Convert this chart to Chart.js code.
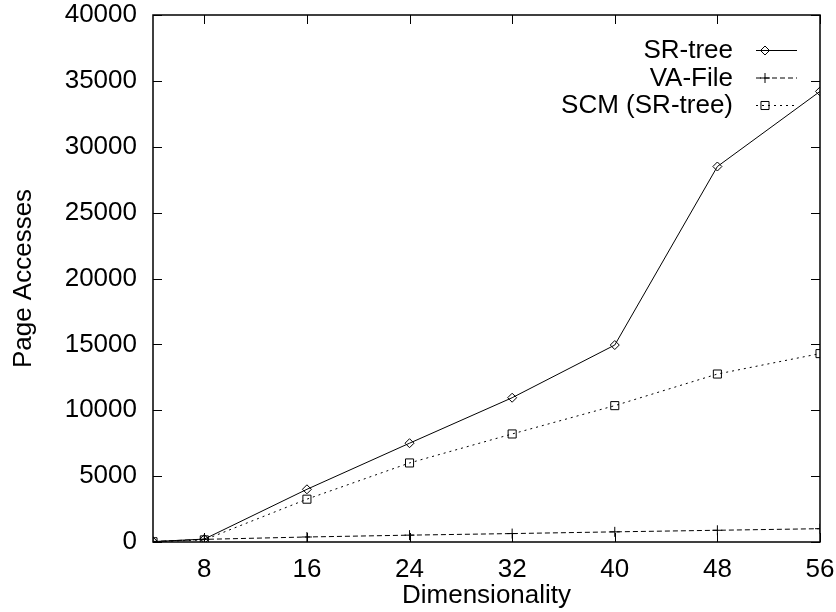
<!DOCTYPE html>
<html>
<head>
<meta charset="utf-8">
<script src="https://cdn.jsdelivr.net/npm/chart.js@4"></script>
<style>
  html, body { margin: 0; padding: 0; background: #fff; }
  #wrap { width: 836px; height: 612px; }
</style>
</head>
<body>
<div id="wrap"><canvas id="chart" width="836" height="612"></canvas></div>
<script>
// data
const dims = [4, 8, 16, 24, 32, 40, 48, 56];
const srTree = [30, 220, 4000, 7500, 10950, 14950, 28500, 34200];
const vaFile = [40, 200, 380, 520, 640, 770, 890, 1010];
const scmSrTree = [20, 160, 3250, 6000, 8200, 10350, 12750, 14300];
const xTicks = [8, 16, 24, 32, 40, 48, 56];
const yTicks = [0, 5000, 10000, 15000, 20000, 25000, 30000, 35000, 40000];

const FONT = 'Liberation Sans, Arial, Helvetica, sans-serif';
const toXY = arr => arr.map((v, i) => ({ x: dims[i], y: v }));

// gnuplot-like frame with inward ticks on all four sides
const framePlugin = {
    id: 'frame',
    afterDraw(chart) {
        const { ctx, chartArea: a, scales } = chart;
        const len = 9;
        ctx.save();
        ctx.strokeStyle = '#000';
        ctx.lineWidth = 1.5;
        ctx.strokeRect(a.left, a.top, a.right - a.left, a.bottom - a.top);
        ctx.lineWidth = 1;
        ctx.beginPath();
        xTicks.forEach(t => {
            const px = Math.round(scales.x.getPixelForValue(t)) + 0.5;
            ctx.moveTo(px, a.bottom); ctx.lineTo(px, a.bottom - len);
            ctx.moveTo(px, a.top); ctx.lineTo(px, a.top + len);
        });
        yTicks.forEach(t => {
            const py = Math.round(scales.y.getPixelForValue(t)) + 0.5;
            ctx.moveTo(a.left, py); ctx.lineTo(a.left + len, py);
            ctx.moveTo(a.right, py); ctx.lineTo(a.right - len, py);
        });
        ctx.stroke();
        ctx.restore();
    }
};

// legend: right-aligned text, line sample on the right
const keyPlugin = {
    id: 'key',
    afterDraw(chart) {
        const { ctx } = chart;
        ctx.save();
        ctx.font = '26px ' + FONT;
        ctx.textAlign = 'right';
        ctx.textBaseline = 'middle';
        chart.data.datasets.forEach((ds, i) => {
            const y = 50 + i * 27.5;
            ctx.fillStyle = '#000';
            ctx.fillText(ds.label, 733, y + 1);
            ctx.strokeStyle = ds.borderColor;
            ctx.lineWidth = ds.borderWidth;
            ctx.setLineDash(ds.borderDash || []);
            ctx.beginPath();
            ctx.moveTo(756, y + 0.5);
            ctx.lineTo(797, y + 0.5);
            ctx.stroke();
            ctx.setLineDash([]);
            ctx.fillStyle = 'rgba(0,0,0,0)';
            Chart.helpers.drawPoint(ctx, {
                pointStyle: ds.pointStyle,
                radius: ds.pointRadius,
                rotation: 0,
                borderWidth: 1
            }, 765, y + 0.5);
        });
        ctx.restore();
    }
};

const ctx = document.getElementById('chart').getContext('2d');
new Chart(ctx, {
    type: 'line',
    data: {
        datasets: [
            {
                label: 'SR-tree',
                data: toXY(srTree),
                borderColor: '#000',
                borderWidth: 1,
                pointStyle: 'rectRot',
                pointRadius: 4.5,
                pointBorderColor: '#000',
                pointBackgroundColor: 'rgba(0,0,0,0)',
                pointBorderWidth: 1
            },
            {
                label: 'VA-File',
                data: toXY(vaFile),
                borderColor: '#000',
                borderWidth: 1,
                borderDash: [5, 3],
                pointStyle: 'cross',
                pointRadius: 5,
                pointBorderColor: '#000',
                pointBorderWidth: 1
            },
            {
                label: 'SCM (SR-tree)',
                data: toXY(scmSrTree),
                borderColor: '#000',
                borderWidth: 1,
                borderDash: [2, 4],
                pointStyle: 'rect',
                pointRadius: 5.7,
                pointBorderColor: '#000',
                pointBackgroundColor: 'rgba(0,0,0,0)',
                pointBorderWidth: 1
            }
        ]
    },
    options: {
        responsive: false,
        animation: false,
        events: [],
        layout: { padding: { top: 15, right: 16, left: 0, bottom: 0 } },
        plugins: {
            legend: { display: false },
            tooltip: { enabled: false }
        },
        scales: {
            x: {
                type: 'linear',
                min: 4,
                max: 56,
                grid: { display: false, drawTicks: false },
                border: { display: false },
                afterBuildTicks: scale => { scale.ticks = xTicks.map(v => ({ value: v })); },
                afterFit: scale => {
                    scale.height = 70;
                    scale.paddingLeft = 0;
                    scale.paddingRight = 0;
                },
                ticks: {
                    color: '#000',
                    padding: 12,
                    maxRotation: 0,
                    font: { family: FONT, size: 26 }
                },
                title: {
                    display: true,
                    text: 'Dimensionality',
                    color: '#000',
                    padding: { top: 0, bottom: 1 },
                    font: { family: FONT, size: 26 }
                }
            },
            y: {
                type: 'linear',
                min: 0,
                max: 40000,
                grid: { display: false, drawTicks: false },
                border: { display: false },
                afterBuildTicks: scale => { scale.ticks = yTicks.map(v => ({ value: v })); },
                afterFit: scale => {
                    scale.width = 153;
                    scale.paddingTop = 0;
                    scale.paddingBottom = 0;
                },
                ticks: {
                    color: '#000',
                    padding: 16,
                    font: { family: FONT, size: 26 },
                    callback: v => String(v)
                },
                title: {
                    display: true,
                    text: 'Page Accesses',
                    color: '#000',
                    padding: { top: 8, bottom: 0 },
                    font: { family: FONT, size: 26 }
                }
            }
        }
    },
    plugins: [framePlugin, keyPlugin]
});
</script>
</body>
</html>
